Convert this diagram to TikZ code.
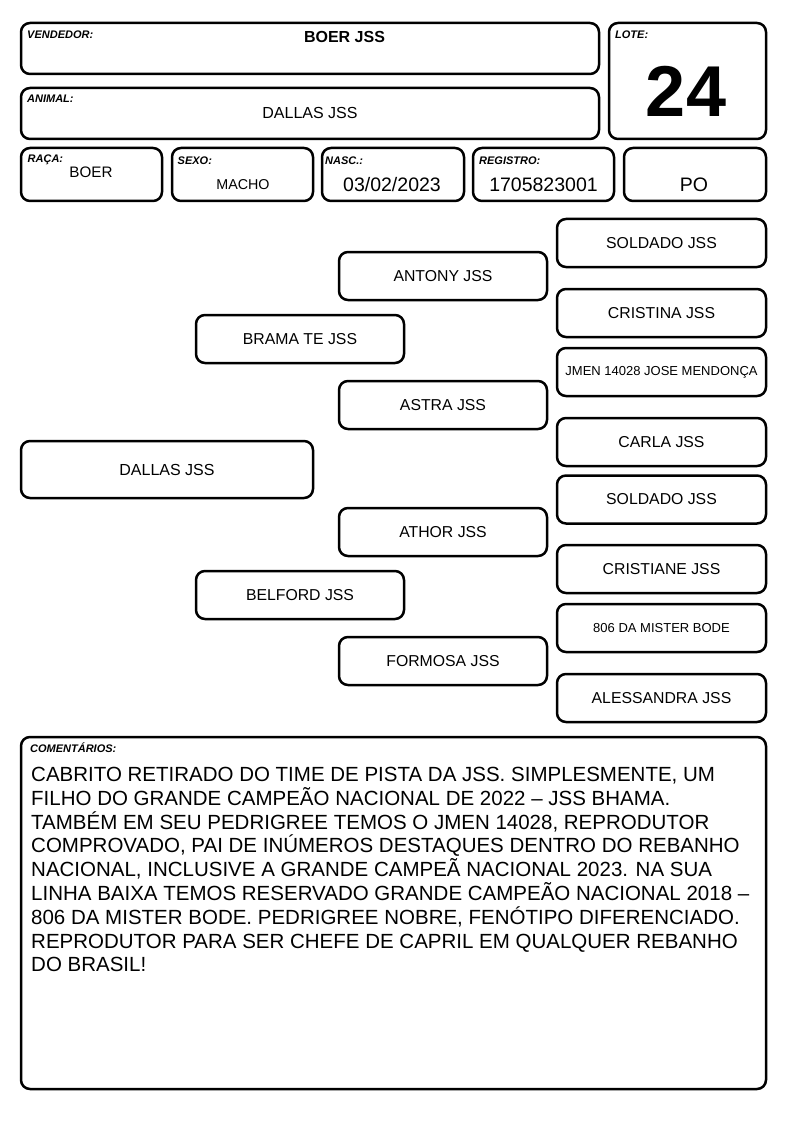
\documentclass[tikz,border=0pt]{standalone}
\usepackage{fontspec}
\setmainfont{Liberation Sans}
\begin{document}
\begin{tikzpicture}[x=1pt,y=-1pt,
  bx/.style={draw, line width=2.5pt, rounded corners=9pt, inner sep=0pt, rectangle},
  lbl/.style={font=\fontsize{11}{12}\selectfont\bfseries\itshape, anchor=base west, inner sep=0pt},
  val/.style={anchor=base, inner sep=0pt},
  ped/.style={bx, minimum width=208pt, minimum height=48pt, font=\fontsize{15.8}{19}\selectfont},
  small/.style={font=\fontsize{13}{15}\selectfont},
  cline/.style={anchor=base west, inner sep=0pt, font=\fontsize{20.5}{24}\selectfont},
  ]
\useasboundingbox (0,0) rectangle (794,1123);
% header boxes
\node[bx, minimum width=578pt, minimum height=51pt] (vend) at (310,48.5) {};
\node[bx, minimum width=578pt, minimum height=51pt] (anim) at (310,113.5) {};
\node[bx, minimum width=157pt, minimum height=116pt] (lote) at (687.5,81) {};
\node[bx, minimum width=141pt, minimum height=53pt] (raca) at (91.5,174.5) {};
\node[bx, minimum width=141pt, minimum height=53pt] (sexo) at (242.5,174.5) {};
\node[bx, minimum width=142pt, minimum height=53pt] (nasc) at (393,174.5) {};
\node[bx, minimum width=141pt, minimum height=53pt] (regi) at (543.5,174.5) {};
\node[bx, minimum width=142pt, minimum height=53pt] (po) at (695,174.5) {};
% labels
\node[lbl] (lvend) at (27,39) {VENDEDOR:};
\node[lbl] (lanim) at (27,103) {ANIMAL:};
\node[lbl] (llote) at (615,39) {LOTE:};
\node[lbl] (lraca) at (27.5,163) {RAÇA:};
\node[lbl] (lsexo) at (177.5,165) {SEXO:};
\node[lbl] (lnasc) at (325,165) {NASC.:};
\node[lbl] (lregi) at (479,165) {REGISTRO:};
% values
\node[val, font=\fontsize{16}{19}\selectfont\bfseries] (vvend) at (344.5,43) {BOER JSS};
\node[val, font=\fontsize{16}{19}\selectfont] (vanim) at (310,119) {DALLAS JSS};
\node[val, font=\fontsize{72}{80}\selectfont\bfseries] (vlote) at (686,117) {24};
\node[val, font=\fontsize{15.2}{18}\selectfont] (vraca) at (91,178) {BOER};
\node[val, font=\fontsize{14.3}{17}\selectfont] (vsexo) at (243,189.5) {MACHO};
\node[val, font=\fontsize{19.5}{23}\selectfont] (vnasc) at (392,192) {03/02/2023};
\node[val, font=\fontsize{19.5}{23}\selectfont] (vregi) at (543.5,191.5) {1705823001};
\node[val, font=\fontsize{19.5}{23}\selectfont] (vpo) at (694,191.5) {PO};
% pedigree
\node[ped, minimum width=292pt, minimum height=57pt, font=\fontsize{16}{19}\selectfont] (dallas) at (167,469.5) {DALLAS JSS};
\node[ped] (brama) at (300,339) {BRAMA TE JSS};
\node[ped] (belford) at (300,595) {BELFORD JSS};
\node[ped] (antony) at (443,276) {ANTONY JSS};
\node[ped] (astra) at (443,405) {ASTRA JSS};
\node[ped] (athor) at (443,532) {ATHOR JSS};
\node[ped] (formosa) at (443,661) {FORMOSA JSS};
\node[ped, minimum width=209pt] (r1) at (661.5,243) {SOLDADO JSS};
\node[ped, minimum width=209pt] (r2) at (661.5,313) {CRISTINA JSS};
\node[ped, minimum width=209pt, small] (r3) at (661.5,372) {JMEN 14028 JOSE MENDONÇA};
\node[ped, minimum width=209pt] (r4) at (661.5,442) {CARLA JSS};
\node[ped, minimum width=209pt] (r5) at (661.5,499.5) {SOLDADO JSS};
\node[ped, minimum width=209pt] (r6) at (661.5,569) {CRISTIANE JSS};
\node[ped, minimum width=209pt, small] (r7) at (661.5,628) {806 DA MISTER BODE};
\node[ped, minimum width=209pt] (r8) at (661.5,698) {ALESSANDRA JSS};
% comments
\node[bx, minimum width=745pt, minimum height=352pt] (com) at (393.5,913) {};
\node[lbl] (lcom) at (30,752.7) {COMENTÁRIOS:};
\node[cline] (c1) at (31,781.5) {CABRITO RETIRADO DO TIME DE PISTA DA JSS. SIMPLESMENTE, UM};
\node[cline] (c2) at (31,805.3) {FILHO DO GRANDE CAMPEÃO NACIONAL DE 2022 – JSS BHAMA.};
\node[cline] (c3) at (31,829.1) {TAMBÉM EM SEU PEDRIGREE TEMOS O JMEN 14028, REPRODUTOR};
\node[cline] (c4) at (31,852.9) {COMPROVADO, PAI DE INÚMEROS DESTAQUES DENTRO DO REBANHO};
\node[cline] (c5) at (31,876.7) {NACIONAL, INCLUSIVE A GRANDE CAMPEÃ NACIONAL 2023. NA SUA};
\node[cline] (c6) at (31,900.5) {LINHA BAIXA TEMOS RESERVADO GRANDE CAMPEÃO NACIONAL 2018 –};
\node[cline] (c7) at (31,924.3) {806 DA MISTER BODE. PEDRIGREE NOBRE, FENÓTIPO DIFERENCIADO.};
\node[cline] (c8) at (31,948.1) {REPRODUTOR PARA SER CHEFE DE CAPRIL EM QUALQUER REBANHO};
\node[cline] (c9) at (31,971.9) {DO BRASIL!};
\end{tikzpicture}
\end{document}
